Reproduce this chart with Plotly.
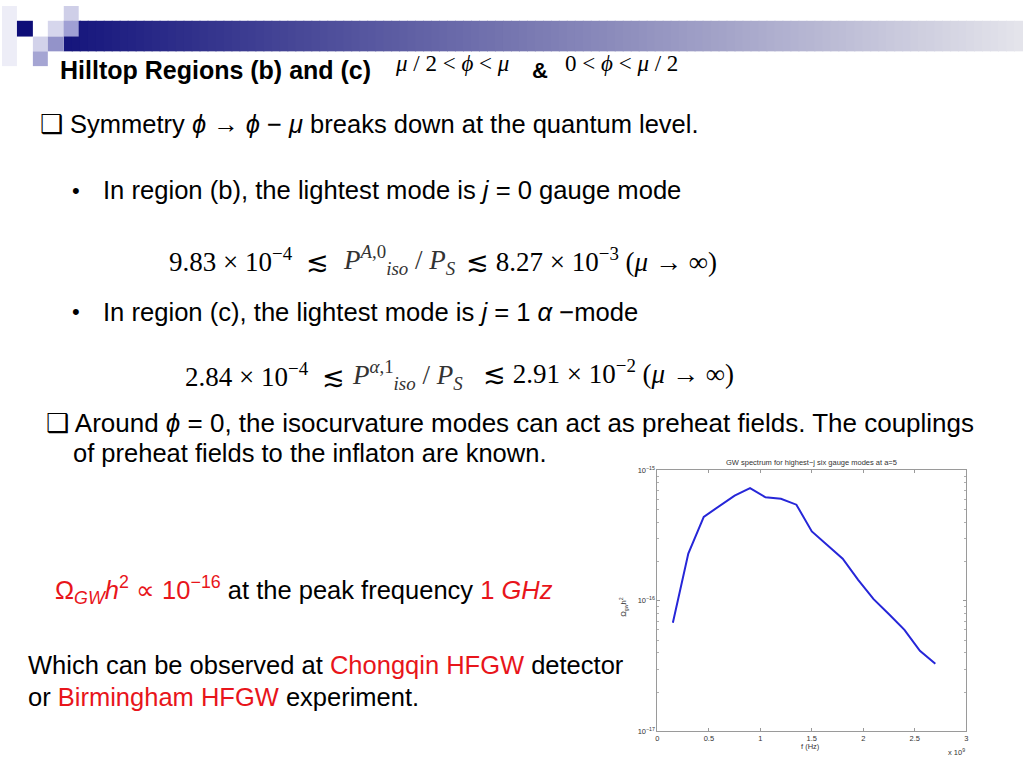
import plotly.graph_objects as go

# GW spectrum (f in units of 1e9 Hz)
freq = [0.15, 0.30, 0.45, 0.60, 0.75, 0.90, 1.05, 1.20, 1.35, 1.50,
        1.65, 1.80, 1.95, 2.10, 2.25, 2.40, 2.55, 2.70]
omega_gw_h2 = [6.8e-17, 2.3e-16, 4.4e-16, 5.3e-16, 6.4e-16, 7.3e-16, 6.2e-16, 6.05e-16, 5.45e-16, 3.4e-16,
               2.65e-16, 2.1e-16, 1.45e-16, 1.03e-16, 7.9e-17, 6.0e-17, 4.15e-17, 3.3e-17]

x_ticks = [0, 0.5, 1, 1.5, 2, 2.5, 3]
x_tick_labels = ["0", "0.5", "1", "1.5", "2", "2.5", "3"]
y_ticks = [1e-17, 1e-16, 1e-15]
y_tick_labels = ["10<sup>−17</sup>", "10<sup>−16</sup>", "10<sup>−15</sup>"]

W, H = 1024, 768
SANS = "Liberation Sans"
SERIF = "Liberation Serif"
RED = "#e8151b"
DX, DY = -4, -5  # annotation box padding vs. glyph position


def px(x, y):
    return (x + DX) / W, 1 - (y + DY) / H


fig = go.Figure()
fig.add_trace(
    go.Scatter(
        x=freq,
        y=omega_gw_h2,
        mode="lines",
        line=dict(color="#2626d8", width=2),
        showlegend=False,
    )
)

# header decoration: squares + fading bar
shapes = []
squares = [
    (0, 0, 15, 61, "#ededf7"),
    (62, 0, 77, 15, "#cfcfe8"),
    (15, 15, 31, 31, "#0d0d78"),
    (46, 15, 62, 31, "#d6d6ec"),
    (62, 15, 77, 31, "#a0a0d4"),
    (31, 31, 46, 46, "#d2d2ea"),
    (46, 31, 62, 46, "#9393c9"),
    (31, 46, 46, 61, "#a5a5d3"),
]
n_steps = 120
x0, x1 = 62, 1024
for i in range(n_steps):
    t = i / (n_steps - 1)
    r = int(22 + t * (228 - 22))
    g = int(22 + t * (228 - 22))
    b = int(125 + t * (235 - 125))
    xa = x0 + (x1 - x0) * i / n_steps
    xb = x0 + (x1 - x0) * (i + 1) / n_steps + 1
    shapes.append(dict(type="rect", xref="paper", yref="paper",
                       x0=xa / W, x1=xb / W, y0=1 - 46 / H, y1=1 - 15 / H,
                       fillcolor=f"rgb({r},{g},{b})", line=dict(width=0), layer="below"))
for (a, b_, c, d, col) in squares:
    shapes.append(dict(type="rect", xref="paper", yref="paper",
                       x0=a / W, x1=c / W, y0=1 - d / H, y1=1 - b_ / H,
                       fillcolor=col, line=dict(width=0), layer="below"))

P_A0 = "<i>P</i><sup><i>A</i>,0</sup><sub><i>iso</i></sub> / <i>P<sub>S</sub></i>"
P_a1 = "<i>P</i><sup><i>α</i>,1</sup><sub><i>iso</i></sub> / <i>P<sub>S</sub></i>"

texts = [
    (60, 70, "<b>Hilltop Regions (b) and (c)</b>", SANS, 25, "black"),
    (397, 63, "<i>μ</i> / 2 &lt; <i>ϕ</i> &lt; <i>μ</i>", SERIF, 23, "black"),
    (534, 70, "<b>&amp;</b>", SANS, 22, "black"),
    (567, 63, "0 &lt; <i>ϕ</i> &lt; <i>μ</i> / 2", SERIF, 23, "black"),
    (40, 125, "❑ Symmetry <i>ϕ</i> → <i>ϕ</i> − <i>μ</i> breaks down at the quantum level.", SANS, 25.5, "black"),
    (72, 192, "•", SANS, 22, "black"),
    (103, 192, "In region (b), the lightest mode is <i>j</i> = 0 gauge mode", SANS, 25.6, "black"),
    (170, 263, "9.83 × 10<sup>−4</sup>  ≲", SERIF, 27, "black"),
    (344, 263, P_A0, SERIF, 27, "#333333"),
    (468, 263, "≲ 8.27 × 10<sup>−3</sup> (<i>μ</i> → ∞)", SERIF, 27, "black"),
    (72, 315, "•", SANS, 22, "black"),
    (103, 315, "In region (c), the lightest mode is <i>j</i> = 1 <i>α</i> −mode", SANS, 25.6, "black"),
    (186, 379, "2.84 × 10<sup>−4</sup>  ≲", SERIF, 27, "black"),
    (353, 379, P_a1, SERIF, 27, "#333333"),
    (485, 376, "≲ 2.91 × 10<sup>−2</sup> (<i>μ</i> → ∞)", SERIF, 27, "black"),
    (46, 428, "❑ Around <i>ϕ</i> = 0, the isocurvature modes can act as preheat fields. The couplings", SANS, 26, "black"),
    (73, 458, "of preheat fields to the inflaton are known.", SANS, 25.5, "black"),
    (55, 597, f"<span style='color:{RED}'>Ω<sub><i>GW</i></sub><i>h</i><sup>2</sup> ∝ 10<sup>−16</sup></span>"
              f" at the peak frequency <span style='color:{RED}'>1 <i>GHz</i></span>", SANS, 25.5, "black"),
    (28, 674, f"Which can be observed at <span style='color:{RED}'>Chongqin HFGW</span> detector", SANS, 25.5, "black"),
    (28, 706, f"or <span style='color:{RED}'>Birmingham HFGW</span> experiment.", SANS, 25.5, "black"),
]
annotations = []
for (x, y, txt, fam, size, col) in texts:
    ax, ay = px(x, y)
    annotations.append(dict(x=ax, y=ay, xref="paper", yref="paper", text=txt, showarrow=False,
                            xanchor="left", yanchor="middle", align="left",
                            font=dict(family=fam, size=size, color=col)))

# inset chart labels
small = dict(family=SANS, size=7.5, color="#333333")
annotations.append(dict(x=813 / W, y=1 - 463 / H, xref="paper", yref="paper", showarrow=False,
                        text="GW spectrum for highest−j six gauge modes at a=5",
                        xanchor="center", yanchor="middle", font=small))
annotations.append(dict(x=624 / W, y=1 - 610 / H, xref="paper", yref="paper", showarrow=False,
                        text="Ω<sub>gw</sub>h<sup>2</sup>", textangle=-90,
                        xanchor="center", yanchor="middle", font=small))
annotations.append(dict(x=812 / W, y=1 - 751 / H, xref="paper", yref="paper", showarrow=False,
                        text="f (Hz)", xanchor="center", yanchor="middle", font=small))
annotations.append(dict(x=958 / W, y=1 - 757 / H, xref="paper", yref="paper", showarrow=False,
                        text="x 10<sup>9</sup>", xanchor="center", yanchor="middle", font=small))

axis_common = dict(showline=True, linecolor="#9a9a9a", linewidth=1, mirror="ticks",
                   ticks="inside", ticklen=3, tickcolor="#9a9a9a", showgrid=False, zeroline=False,
                   tickfont=small)

fig.update_layout(
    width=W,
    height=H,
    margin=dict(l=0, r=0, t=0, b=0),
    paper_bgcolor="white",
    plot_bgcolor="white",
    shapes=shapes,
    annotations=annotations,
    xaxis=dict(domain=[658 / W, 968 / W], range=[0, 3], tickvals=x_ticks, ticktext=x_tick_labels,
               **axis_common),
    yaxis=dict(domain=[1 - 736 / H, 1 - 471 / H], type="log", range=[-17, -15],
               tickvals=y_ticks, ticktext=y_tick_labels,
               minor=dict(ticks="inside", ticklen=2, tickcolor="#b0b0b0", dtick="D1"),
               **axis_common),
)

# drop the default page margin/scrolling so the slide sits exactly in the window
fig.write_html("out.html", config={"displayModeBar": False},
               post_script="document.body.style.margin='0';document.body.style.overflow='hidden';")
